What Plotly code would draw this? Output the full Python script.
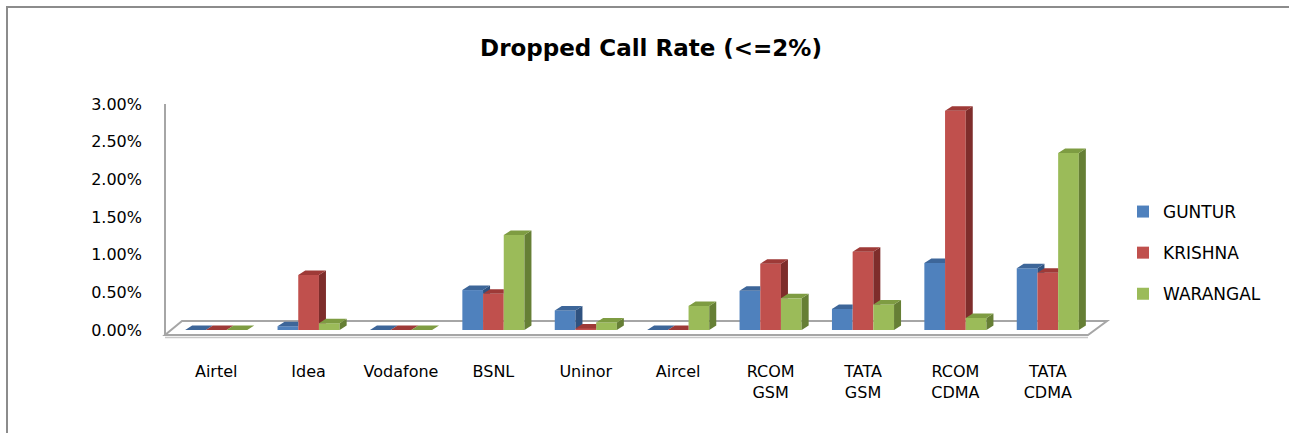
import plotly.graph_objects as go

categories = ["Airtel", "Idea", "Vodafone", "BSNL", "Uninor", "Aircel",
              "RCOM<br>GSM", "TATA<br>GSM", "RCOM<br>CDMA", "TATA<br>CDMA"]
series_names = ["GUNTUR", "KRISHNA", "WARANGAL"]
guntur = [0.0000, 0.0005, 0.0000, 0.0053, 0.0026, 0.0000, 0.0052, 0.0028, 0.0089, 0.0082]
krishna = [0.0000, 0.0073, 0.0000, 0.0048, 0.0002, 0.0000, 0.0088, 0.0104, 0.0291, 0.0076]
warangal = [0.0000, 0.0009, 0.0000, 0.0126, 0.0010, 0.0032, 0.0042, 0.0034, 0.0016, 0.0235]
series_values = [guntur, krishna, warangal]
y_tickvals = [0, 0.005, 0.01, 0.015, 0.02, 0.025, 0.03]

front = ["#4F81BD", "#C0504D", "#9BBB59"]
top_c = ["#3D6699", "#9E3A37", "#7E9C42"]
side_c = ["#2F5280", "#7E2D2B", "#667F35"]

W, H = 1289, 433
L, R, T, B = 170, 195, 104, 103
PW, PH = W - L - R, H - T - B
YMAX = 0.03
xpp = 10.0 / PW          # x data units per pixel
ypp = YMAX / PH          # y data units per pixel
DX, DY = 7 * xpp, 4.5 * ypp
BW = 0.224
n = len(categories)


def clip_y(poly, ymin):
    out = []
    for i in range(len(poly)):
        a, b = poly[i], poly[(i + 1) % len(poly)]
        ain, bin_ = a[1] >= ymin, b[1] >= ymin
        if ain:
            out.append(a)
        if ain != bin_ and b[1] != a[1]:
            t = (ymin - a[1]) / (b[1] - a[1])
            out.append((a[0] + t * (b[0] - a[0]), ymin))
    return out


def add_poly(xs, ys, poly):
    if len(poly) < 3:
        return
    for p in poly:
        xs.append(p[0]); ys.append(p[1])
    xs.append(poly[0][0]); ys.append(poly[0][1])
    xs.append(None); ys.append(None)


fig = go.Figure()
for s, (name, vals) in enumerate(zip(series_names, series_values)):
    off = -1.5 * BW + s * BW
    fig.add_trace(go.Bar(x=list(range(n)), y=vals, width=BW, offset=off, name=name,
                         marker=dict(color=front[s], line=dict(width=0)),
                         legendgroup=name))

for s, vals in enumerate(series_values):
    off = -1.5 * BW + s * BW
    sx, sy, tx, ty = [], [], [], []
    for i in range(n):
        h = vals[i]
        xl = i + off
        xr = xl + BW
        hn = series_values[s + 1][i] if s < 2 else -1
        side = [(xr, 0), (xr + DX, DY), (xr + DX, h + DY), (xr, h)]
        add_poly(sx, sy, clip_y(side, hn) if hn > 0 else side)
        left_top = [(xl, h), (xr, h), (xr, h + DY), (xl + DX, h + DY)]
        add_poly(tx, ty, left_top)
        tri = [(xr, h), (xr + DX, h + DY), (xr, h + DY)]
        add_poly(tx, ty, clip_y(tri, hn) if hn > h else tri)
    fig.add_trace(go.Scatter(x=sx, y=sy, fill="toself", fillcolor=side_c[s], mode="lines",
                             line=dict(width=0), hoverinfo="skip", showlegend=False))
    fig.add_trace(go.Scatter(x=tx, y=ty, fill="toself", fillcolor=top_c[s], mode="lines",
                             line=dict(width=0), hoverinfo="skip", showlegend=False))


def px(xp):
    return (xp - L) / PW


def py(yp):
    return (H - B - yp) / PH


floor = "M {} {} L {} {} L {} {} L {} {} Z".format(
    px(165), py(335), px(1088), py(335), px(1107), py(321), px(182), py(321))
shapes = [
    dict(type="path", path=floor, xref="paper", yref="paper", layer="below",
         line=dict(color="#A6A6A6", width=2), fillcolor="white"),
    dict(type="line", xref="paper", yref="paper", x0=px(1088), y0=py(337.5), x1=px(165), y1=py(337.5),
         layer="below", line=dict(color="#C8C8C8", width=1.5)),
    dict(type="line", xref="paper", yref="paper", x0=px(165), y0=py(104), x1=px(165), y1=py(336),
         layer="below", line=dict(color="#A6A6A6", width=2)),
    dict(type="rect", xref="paper", yref="paper", x0=px(7), y0=py(7), x1=px(1310), y1=py(450),
         layer="below", line=dict(color="#8C8C8C", width=2), fillcolor="rgba(0,0,0,0)"),
]

FONT = "DejaVu Sans"
fig.update_layout(
    width=W, height=H, margin=dict(l=L, r=R, t=T, b=B),
    paper_bgcolor="white", plot_bgcolor="rgba(0,0,0,0)",
    barmode="overlay", showlegend=True,
    title=dict(text="<b>Dropped Call Rate (<=2%)</b>", x=651 / W, xanchor="center",
               y=1 - 48 / H, yanchor="middle", yref="container",
               font=dict(family=FONT, size=23, color="#000000")),
    font=dict(family=FONT, size=16, color="#000000"),
    xaxis=dict(range=[-0.5, 9.5], tickmode="array", tickvals=list(range(n)), ticktext=categories,
               showgrid=False, zeroline=False, showline=False, ticks="",
               ticklabelstandoff=30, tickfont=dict(family=FONT, size=16, color="#000000")),
    yaxis=dict(range=[0, YMAX], tickmode="array", tickvals=y_tickvals, tickformat=".2%",
               showgrid=False, zeroline=False, showline=False, ticks="",
               ticklabelstandoff=27, tickfont=dict(family=FONT, size=16, color="#000000")),
    legend=dict(x=px(1123), y=py(194), xanchor="left", yanchor="top",
                font=dict(family=FONT, size=17, color="#000000"),
                traceorder="grouped", tracegroupgap=16, bgcolor="rgba(0,0,0,0)"),
    shapes=shapes,
)

fig.write_html("out.html", config={"displayModeBar": False},
               post_script="document.body.style.margin='0';document.body.style.overflow='hidden';")
